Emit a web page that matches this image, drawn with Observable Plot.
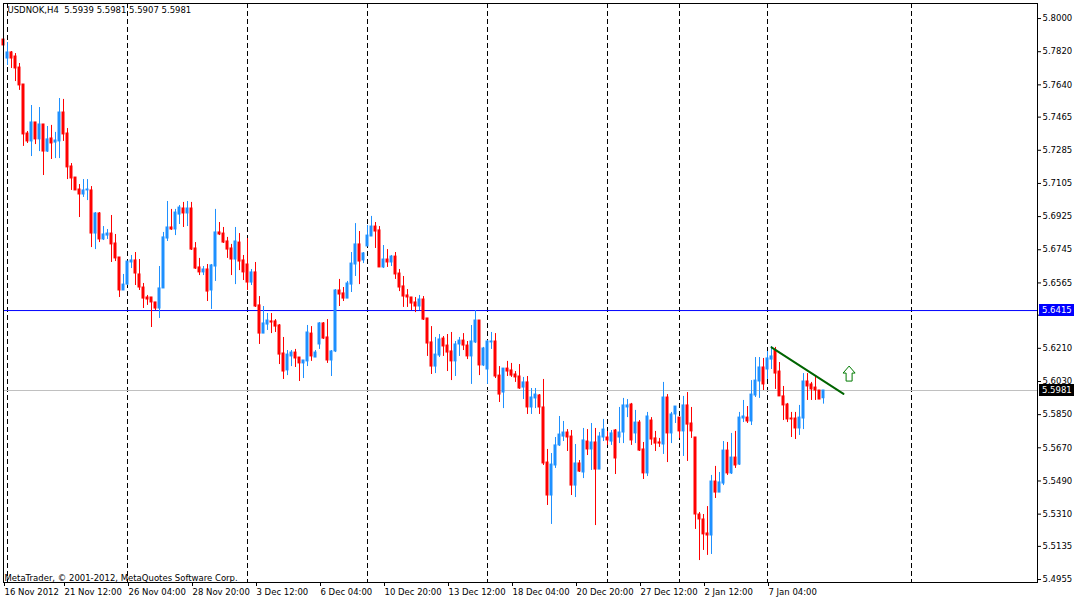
<!DOCTYPE html>
<html>
<head>
<meta charset="utf-8">
<script src="https://cdn.jsdelivr.net/npm/d3@7"></script>
<script src="https://cdn.jsdelivr.net/npm/@observablehq/plot@0.6"></script>
<style>
  html, body { margin: 0; padding: 0; background: #ffffff; }
  #chart svg { display: block; }
</style>
</head>
<body>
<div id="chart"></div>
<script>
// ---- data (USDNOK, H4) ----
const symbolTitle = "USDNOK,H4\u00a0\u00a05.5939 5.5981 5.5907 5.5981";
const copyright = "MetaTrader, \u00a9 2001-2012, MetaQuotes Software Corp.";

const open = [
5.7886,5.7783,5.7816,5.7794,5.7734,5.7642,5.7376,5.7333,5.7436,5.7344,
5.7425,5.7278,5.7349,5.7327,5.7333,5.7490,5.7376,5.7197,5.7137,5.7072,
5.7045,5.7067,5.7067,5.6833,5.6942,5.6801,5.6822,5.6833,5.6779,5.6703,
5.6524,5.6556,5.6676,5.6687,5.6611,5.6540,5.6486,5.6486,5.6459,5.6426,
5.6535,5.6806,5.6866,5.6855,5.6936,5.6969,5.6942,5.6969,5.6752,5.6649,
5.6622,5.6638,5.6524,5.6654,5.6839,5.6833,5.6790,5.6752,5.6692,5.6784,
5.6687,5.6665,5.6567,5.6622,5.6443,5.6290,5.6339,5.6356,5.6356,5.6334,
5.6182,5.6090,5.6166,5.6187,5.6160,5.6128,5.6139,5.6290,5.6160,5.6231,
5.6345,5.6269,5.6144,5.6193,5.6524,5.6508,5.6480,5.6556,5.6665,5.6774,
5.6687,5.6763,5.6817,5.6871,5.6850,5.6649,5.6692,5.6676,5.6708,5.6616,
5.6546,5.6497,5.6486,5.6459,5.6437,5.6475,5.6372,5.6242,5.6111,5.6171,
5.6263,5.6225,5.6193,5.6139,5.6231,5.6252,5.6225,5.6166,5.6242,5.6361,
5.6117,5.6095,5.6242,5.6247,5.6062,5.5970,5.6100,5.6090,5.6068,5.6057,
5.5997,5.6025,5.5889,5.5938,5.5954,5.5889,5.5590,5.5411,5.5574,5.5683,
5.5731,5.5753,5.5731,5.5465,5.5585,5.5536,5.5704,5.5661,5.5699,5.5552,
5.5726,5.5726,5.5704,5.5764,5.5726,5.5753,5.5889,5.5905,5.5748,5.5807,
5.5661,5.5531,5.5818,5.5721,5.5699,5.5688,5.5943,5.5748,5.5851,5.5834,
5.5759,5.5900,5.5802,5.5726,5.5308,5.5281,5.5205,5.5194,5.5487,5.5427,
5.5476,5.5655,5.5531,5.5617,5.5579,5.5829,5.5834,5.5813,5.5954,5.6030,
5.6106,5.6095,5.6149,5.6198,5.6084,5.5949,5.5905,5.5829,5.5829,5.5775,
5.5829,5.6030,5.6014,5.5997,5.5981,5.5939
];
const high = [
5.7930,5.7870,5.7821,5.7810,5.7756,5.7642,5.7387,5.7528,5.7436,5.7517,
5.7425,5.7414,5.7420,5.7382,5.7566,5.7561,5.7403,5.7213,5.7137,5.7099,
5.7126,5.7126,5.7088,5.6947,5.6947,5.6871,5.6855,5.6931,5.6828,5.6703,
5.6611,5.6681,5.6714,5.6730,5.6692,5.6562,5.6497,5.6486,5.6459,5.6654,
5.6839,5.7007,5.6964,5.6964,5.6985,5.7002,5.7007,5.7002,5.6784,5.6698,
5.6654,5.6665,5.6665,5.6964,5.6893,5.6866,5.6812,5.6774,5.6866,5.6833,
5.6714,5.6806,5.6638,5.6676,5.6491,5.6437,5.6399,5.6399,5.6366,5.6339,
5.6269,5.6198,5.6198,5.6204,5.6160,5.6144,5.6334,5.6328,5.6198,5.6350,
5.6350,5.6366,5.6198,5.6529,5.6584,5.6540,5.6573,5.6730,5.6887,5.6844,
5.6730,5.6877,5.6926,5.6893,5.6871,5.6768,5.6746,5.6714,5.6730,5.6638,
5.6600,5.6529,5.6486,5.6486,5.6497,5.6491,5.6372,5.6328,5.6269,5.6285,
5.6274,5.6285,5.6296,5.6247,5.6269,5.6290,5.6247,5.6334,5.6415,5.6361,
5.6215,5.6252,5.6296,5.6290,5.6111,5.6100,5.6139,5.6128,5.6084,5.6122,
5.6052,5.6057,5.5992,5.5992,5.5959,5.6041,5.5661,5.5639,5.5726,5.5840,
5.5813,5.5769,5.5764,5.5688,5.5601,5.5775,5.5769,5.5802,5.5775,5.5753,
5.5824,5.5759,5.5764,5.5769,5.5889,5.5938,5.5932,5.5911,5.5873,5.5818,
5.5699,5.5862,5.5834,5.5759,5.5721,5.6025,5.5959,5.5862,5.5894,5.5834,
5.5949,5.5970,5.5889,5.5726,5.5319,5.5308,5.5351,5.5520,5.5569,5.5536,
5.5704,5.5699,5.5748,5.5759,5.5862,5.5927,5.5894,5.6035,5.6160,5.6160,
5.6155,5.6193,5.6220,5.6215,5.6133,5.6003,5.5911,5.5862,5.5862,5.5900,
5.6073,5.6073,5.6025,5.6062,5.5981,5.5981
];
const low = [
5.7800,5.7745,5.7729,5.7658,5.7610,5.7306,5.7322,5.7251,5.7316,5.7278,
5.7148,5.7273,5.7235,5.7240,5.7240,5.7333,5.7126,5.7067,5.7067,5.6920,
5.7029,5.7012,5.6757,5.6746,5.6784,5.6795,5.6801,5.6676,5.6681,5.6486,
5.6524,5.6551,5.6643,5.6551,5.6524,5.6426,5.6443,5.6323,5.6415,5.6372,
5.6535,5.6790,5.6850,5.6822,5.6882,5.6866,5.6871,5.6741,5.6638,5.6605,
5.6605,5.6464,5.6421,5.6573,5.6822,5.6779,5.6698,5.6605,5.6556,5.6632,
5.6578,5.6524,5.6551,5.6432,5.6231,5.6290,5.6307,5.6290,5.6296,5.6122,
5.6041,5.6062,5.6111,5.6106,5.6030,5.6046,5.6111,5.6139,5.6160,5.6204,
5.6258,5.6128,5.6057,5.6187,5.6437,5.6464,5.6480,5.6513,5.6600,5.6556,
5.6670,5.6763,5.6817,5.6752,5.6649,5.6643,5.6649,5.6654,5.6584,5.6518,
5.6432,5.6432,5.6415,5.6404,5.6415,5.6361,5.6166,5.6068,5.6073,5.6160,
5.6166,5.6084,5.6035,5.6057,5.6166,5.6198,5.6149,5.6014,5.6236,5.6062,
5.6111,5.6014,5.6204,5.6046,5.5916,5.5883,5.6057,5.6052,5.6025,5.5987,
5.5932,5.5851,5.5851,5.5883,5.5851,5.5574,5.5357,5.5254,5.5558,5.5677,
5.5704,5.5650,5.5411,5.5400,5.5536,5.5503,5.5628,5.5547,5.5248,5.5552,
5.5704,5.5683,5.5683,5.5525,5.5693,5.5693,5.5834,5.5683,5.5693,5.5650,
5.5498,5.5514,5.5683,5.5650,5.5672,5.5634,5.5590,5.5693,5.5802,5.5721,
5.5623,5.5596,5.5721,5.5227,5.5058,5.5113,5.5086,5.5091,5.5395,5.5427,
5.5465,5.5520,5.5525,5.5558,5.5574,5.5807,5.5802,5.5791,5.5943,5.5938,
5.5981,5.6041,5.6095,5.5987,5.5949,5.5818,5.5807,5.5726,5.5715,5.5737,
5.5769,5.5927,5.5927,5.5927,5.5932,5.5907
];
const close = [
5.7854,5.7816,5.7783,5.7729,5.7637,5.7371,5.7333,5.7436,5.7344,5.7425,
5.7278,5.7344,5.7322,5.7338,5.7490,5.7371,5.7192,5.7132,5.7067,5.7045,
5.7067,5.7072,5.6833,5.6942,5.6801,5.6828,5.6833,5.6774,5.6698,5.6524,
5.6556,5.6681,5.6687,5.6616,5.6540,5.6480,5.6475,5.6459,5.6426,5.6535,
5.6812,5.6866,5.6855,5.6947,5.6974,5.6942,5.6969,5.6746,5.6643,5.6622,
5.6638,5.6518,5.6660,5.6839,5.6828,5.6784,5.6746,5.6692,5.6790,5.6681,
5.6622,5.6567,5.6622,5.6437,5.6290,5.6345,5.6361,5.6350,5.6328,5.6176,
5.6084,5.6176,5.6187,5.6155,5.6128,5.6144,5.6296,5.6166,5.6187,5.6345,
5.6263,5.6144,5.6193,5.6524,5.6502,5.6480,5.6562,5.6670,5.6774,5.6681,
5.6725,5.6822,5.6871,5.6844,5.6649,5.6692,5.6676,5.6708,5.6611,5.6540,
5.6491,5.6486,5.6453,5.6437,5.6475,5.6366,5.6236,5.6111,5.6176,5.6258,
5.6220,5.6187,5.6139,5.6231,5.6252,5.6225,5.6166,5.6247,5.6361,5.6117,
5.6209,5.6247,5.6247,5.6057,5.5959,5.6100,5.6084,5.6062,5.6052,5.5992,
5.6025,5.5889,5.5943,5.5959,5.5889,5.5585,5.5411,5.5579,5.5683,5.5742,
5.5753,5.5726,5.5465,5.5585,5.5541,5.5710,5.5661,5.5699,5.5552,5.5731,
5.5769,5.5710,5.5748,5.5612,5.5753,5.5900,5.5900,5.5710,5.5807,5.5655,
5.5531,5.5840,5.5715,5.5693,5.5693,5.5943,5.5748,5.5851,5.5894,5.5759,
5.5900,5.5796,5.5759,5.5308,5.5281,5.5200,5.5194,5.5487,5.5427,5.5482,
5.5655,5.5531,5.5617,5.5574,5.5834,5.5840,5.5813,5.5959,5.6035,5.6106,
5.6014,5.6155,5.6166,5.6073,5.5949,5.5900,5.5824,5.5824,5.5775,5.5834,
5.6030,5.6003,5.5987,5.5981,5.5932,5.5981
];

const yTicks = [5.8000,5.7820,5.7640,5.7465,5.7285,5.7105,5.6925,5.6745,5.6565,5.6390,
                5.6210,5.6030,5.5850,5.5670,5.5490,5.5310,5.5135,5.4955];
const hiddenTick = 5.6390;   // its label sits under the blue price box
const xTickBars = [0,15,31,47,63,79,95,111,127,143,159,175,191];
const xTickLabels = ["16 Nov 2012","21 Nov 12:00","26 Nov 04:00","28 Nov 20:00","3 Dec 12:00",
  "6 Dec 04:00","10 Dec 20:00","13 Dec 12:00","18 Dec 04:00","20 Dec 20:00",
  "27 Dec 12:00","2 Jan 12:00","7 Jan 04:00"];
const separatorBars = [1,31,61,91,121,151,169,191,227];
const hLevel = 5.6415;     // blue horizontal line
const bidLevel = 5.5981;   // current bid
const trendBars = [192, 210];
const trendPrices = [5.6215, 5.5963];
const arrowBar = [211.4];
const arrowPrice = [5.6073];

// ---- build tables ----
const candles = open.map((o, i) => ({i, open: o, high: high[i], low: low[i], close: close[i]}));
const trend = trendBars.map((b, k) => ({i: b, p: trendPrices[k]}));
const arrow = arrowBar.map((b, k) => ({i: b, p: arrowPrice[k]}));
const labelOf = new Map(xTickBars.map((b, k) => [b, xTickLabels[k]]));
const BULL = "#1E90FF", BEAR = "#FF0000";
const col = d => d.close > d.open ? BULL : BEAR;
const fmt = d3.format(".4f");

const upArrow = {
  draw(ctx, size) {
    const r = Math.sqrt(size / Math.PI), k = r / 7.5;
    ctx.moveTo(0, -7.5 * k);
    ctx.lineTo(6 * k, -0.5 * k);
    ctx.lineTo(3 * k, -0.5 * k);
    ctx.lineTo(3 * k, 7.5 * k);
    ctx.lineTo(-3 * k, 7.5 * k);
    ctx.lineTo(-3 * k, -0.5 * k);
    ctx.lineTo(-6 * k, -0.5 * k);
    ctx.closePath();
  }
};

const FONT = "DejaVu Sans";
const chart = Plot.plot({
  width: 1075,
  height: 599,
  marginLeft: 3,
  marginRight: 38,
  marginTop: 3,
  marginBottom: 17,
  style: {fontFamily: FONT, fontSize: "8.5px", background: "#ffffff", color: "#000000", overflow: "visible"},
  x: {domain: [0, 258.5]},
  y: {domain: [5.49389, 5.80817]},
  color: {type: "identity"},
  marks: [
    Plot.ruleX(separatorBars, {x: d => d, stroke: "#000000", strokeDasharray: "5,3"}),
    Plot.ruleY([hLevel], {stroke: "#0000FF"}),
    Plot.ruleY([bidLevel], {stroke: "#C0C0C0"}),
    Plot.ruleX(candles, {x: "i", y1: "low", y2: "high", stroke: col}),
    Plot.rect(candles, {x1: d => d.i - 0.375, x2: d => d.i + 0.375, y1: "open", y2: "close",
                        fill: col, insetTop: -0.5, insetBottom: -0.5}),
    Plot.line(trend, {x: "i", y: "p", stroke: "#006400", strokeWidth: 2}),
    Plot.dot(arrow, {x: "i", y: "p", r: 7.5, symbol: upArrow, stroke: "#007A00", fill: "#ffffff", strokeWidth: 1}),
    Plot.axisY(yTicks, {anchor: "right", label: null, tickSize: 3, tickPadding: 2,
                        tickFormat: d => d === hiddenTick ? "" : fmt(d), fontSize: 8.5}),
    Plot.axisX(xTickBars, {anchor: "bottom", label: null, tickSize: 4, tickPadding: 2,
                           tickFormat: d => labelOf.get(d), textAnchor: "start", dx: 1, fontSize: 8.5}),
    Plot.frame({stroke: "#000000"}),
    Plot.text([symbolTitle], {frameAnchor: "top-left", textAnchor: "start", lineAnchor: "top",
                              dx: 4, dy: 3, fill: "#000000", fontSize: 8.5}),
    Plot.text([copyright], {frameAnchor: "bottom-left", textAnchor: "start", lineAnchor: "bottom",
                            dx: 1, dy: -2, fill: "#000000", fontSize: 8.5})
  ]
});
document.getElementById("chart").appendChild(chart);

// price labels on the right axis (placed through the chart's own y scale)
const ys = chart.scale("y");
const svg = d3.select(chart);
[[hLevel, "#0000FF"], [bidLevel, "#000000"]].forEach(([v, c]) => {
  const y = Math.round(ys.apply(v));
  const g = svg.append("g").attr("text-anchor", "start");
  g.append("rect").attr("x", 1039).attr("y", y - 6).attr("width", 35).attr("height", 12).attr("fill", c);
  g.append("text").attr("x", 1042).attr("y", y).attr("dy", "0.35em")
    .attr("text-anchor", "start")
    .attr("fill", "#ffffff").attr("font-family", FONT).attr("font-size", 8.5)
    .text(fmt(v));
});
</script>
</body>
</html>
